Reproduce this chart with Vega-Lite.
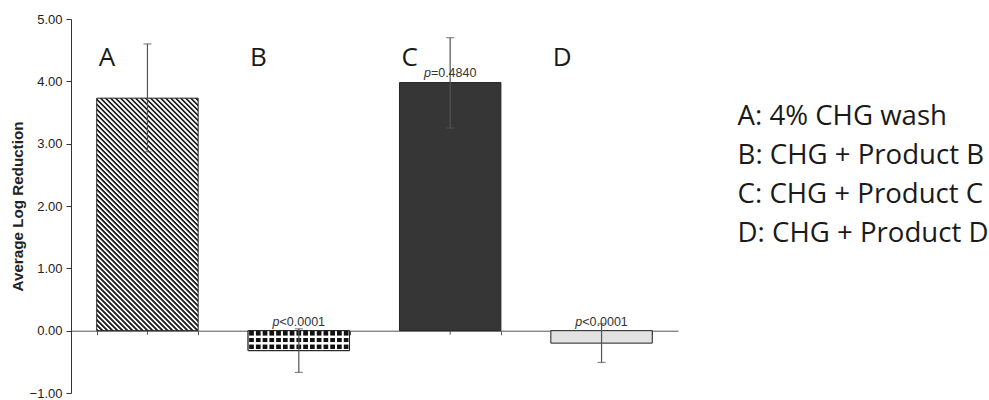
{
  "$schema": "https://vega.github.io/schema/vega-lite/v6.json",
  "width": 607,
  "height": 374,
  "autosize": {"type": "none"},
  "padding": {"left": 71, "top": 19, "right": 311, "bottom": 7},
  "background": "white",
  "config": {"view": {"stroke": null}, "font": "Liberation Sans"},
  "data": {"values": [
    {"group": "A", "name": "A: 4% CHG wash", "value": 3.73, "lower": 2.87, "upper": 4.60, "ptext": null},
    {"group": "B", "name": "B: CHG + Product B", "value": -0.32, "lower": -0.67, "upper": 0.03, "ptext": "<0.0001"},
    {"group": "C", "name": "C: CHG + Product C", "value": 3.98, "lower": 3.25, "upper": 4.70, "ptext": "=0.4840"},
    {"group": "D", "name": "D: CHG + Product D", "value": -0.20, "lower": -0.51, "upper": 0.11, "ptext": "<0.0001"}
  ]},
  "encoding": {
    "x": {
      "field": "group", "type": "nominal",
      "scale": {"paddingInner": 0.33, "paddingOuter": 0.17},
      "axis": {"title": null, "labels": false, "orient": "bottom", "offset": -62.3, "domainColor": "#555", "tickColor": "#555", "tickSize": 4, "tickBand": "extent", "grid": false}
    }
  },
  "layer": [
    {
      "mark": {"type": "rule", "color": "#555", "strokeWidth": 1},
      "encoding": {
        "y": {"datum": 0},
        "y2": {"datum": -0.065}
      }
    },
    {
      "mark": {"type": "bar", "stroke": "#222", "strokeWidth": 1},
      "encoding": {
        "y": {
          "field": "value", "type": "quantitative",
          "scale": {"domain": [-1, 5], "nice": false},
          "title": "Average Log Reduction",
          "axis": {"format": ".2f", "values": [-1, 0, 1, 2, 3, 4, 5], "grid": false, "domainColor": "#333", "tickColor": "#333", "tickSize": 5, "labelFont": "Liberation Sans", "labelFontSize": 13, "labelColor": "#222", "labelPadding": 4, "titleFont": "Liberation Sans", "titleFontSize": 15.2, "titleFontWeight": "bold", "titleColor": "#222", "titlePadding": 4}
        },
        "fill": {
          "condition": [
            {"test": "datum.group === 'A'", "value": {"gradient": "linear", "x1": 0, "y1": 1, "x2": 0.527, "y2": -0.207, "stops": [
{"offset":0,"color":"#222"},{"offset":0.005,"color":"#222"},{"offset":0.0075,"color":"#fff"},{"offset":0.0125,"color":"#fff"},
{"offset":0.015,"color":"#222"},{"offset":0.02,"color":"#222"},{"offset":0.0225,"color":"#fff"},{"offset":0.0275,"color":"#fff"},
{"offset":0.03,"color":"#222"},{"offset":0.035,"color":"#222"},{"offset":0.0375,"color":"#fff"},{"offset":0.0425,"color":"#fff"},
{"offset":0.045,"color":"#222"},{"offset":0.05,"color":"#222"},{"offset":0.0525,"color":"#fff"},{"offset":0.0575,"color":"#fff"},
{"offset":0.06,"color":"#222"},{"offset":0.065,"color":"#222"},{"offset":0.0675,"color":"#fff"},{"offset":0.0725,"color":"#fff"},
{"offset":0.075,"color":"#222"},{"offset":0.08,"color":"#222"},{"offset":0.0825,"color":"#fff"},{"offset":0.0875,"color":"#fff"},
{"offset":0.09,"color":"#222"},{"offset":0.095,"color":"#222"},{"offset":0.0975,"color":"#fff"},{"offset":0.1025,"color":"#fff"},
{"offset":0.105,"color":"#222"},{"offset":0.11,"color":"#222"},{"offset":0.1125,"color":"#fff"},{"offset":0.1175,"color":"#fff"},
{"offset":0.12,"color":"#222"},{"offset":0.125,"color":"#222"},{"offset":0.1275,"color":"#fff"},{"offset":0.1325,"color":"#fff"},
{"offset":0.135,"color":"#222"},{"offset":0.14,"color":"#222"},{"offset":0.1425,"color":"#fff"},{"offset":0.1475,"color":"#fff"},
{"offset":0.15,"color":"#222"},{"offset":0.155,"color":"#222"},{"offset":0.1575,"color":"#fff"},{"offset":0.1625,"color":"#fff"},
{"offset":0.165,"color":"#222"},{"offset":0.17,"color":"#222"},{"offset":0.1725,"color":"#fff"},{"offset":0.1775,"color":"#fff"},
{"offset":0.18,"color":"#222"},{"offset":0.185,"color":"#222"},{"offset":0.1875,"color":"#fff"},{"offset":0.1925,"color":"#fff"},
{"offset":0.195,"color":"#222"},{"offset":0.2,"color":"#222"},{"offset":0.2025,"color":"#fff"},{"offset":0.2075,"color":"#fff"},
{"offset":0.21,"color":"#222"},{"offset":0.215,"color":"#222"},{"offset":0.2175,"color":"#fff"},{"offset":0.2225,"color":"#fff"},
{"offset":0.225,"color":"#222"},{"offset":0.23,"color":"#222"},{"offset":0.2325,"color":"#fff"},{"offset":0.2375,"color":"#fff"},
{"offset":0.24,"color":"#222"},{"offset":0.245,"color":"#222"},{"offset":0.2475,"color":"#fff"},{"offset":0.2525,"color":"#fff"},
{"offset":0.255,"color":"#222"},{"offset":0.26,"color":"#222"},{"offset":0.2625,"color":"#fff"},{"offset":0.2675,"color":"#fff"},
{"offset":0.27,"color":"#222"},{"offset":0.275,"color":"#222"},{"offset":0.2775,"color":"#fff"},{"offset":0.2825,"color":"#fff"},
{"offset":0.285,"color":"#222"},{"offset":0.29,"color":"#222"},{"offset":0.2925,"color":"#fff"},{"offset":0.2975,"color":"#fff"},
{"offset":0.3,"color":"#222"},{"offset":0.305,"color":"#222"},{"offset":0.3075,"color":"#fff"},{"offset":0.3125,"color":"#fff"},
{"offset":0.315,"color":"#222"},{"offset":0.32,"color":"#222"},{"offset":0.3225,"color":"#fff"},{"offset":0.3275,"color":"#fff"},
{"offset":0.33,"color":"#222"},{"offset":0.335,"color":"#222"},{"offset":0.3375,"color":"#fff"},{"offset":0.3425,"color":"#fff"},
{"offset":0.345,"color":"#222"},{"offset":0.35,"color":"#222"},{"offset":0.3525,"color":"#fff"},{"offset":0.3575,"color":"#fff"},
{"offset":0.36,"color":"#222"},{"offset":0.365,"color":"#222"},{"offset":0.3675,"color":"#fff"},{"offset":0.3725,"color":"#fff"},
{"offset":0.375,"color":"#222"},{"offset":0.38,"color":"#222"},{"offset":0.3825,"color":"#fff"},{"offset":0.3875,"color":"#fff"},
{"offset":0.39,"color":"#222"},{"offset":0.395,"color":"#222"},{"offset":0.3975,"color":"#fff"},{"offset":0.4025,"color":"#fff"},
{"offset":0.405,"color":"#222"},{"offset":0.41,"color":"#222"},{"offset":0.4125,"color":"#fff"},{"offset":0.4175,"color":"#fff"},
{"offset":0.42,"color":"#222"},{"offset":0.425,"color":"#222"},{"offset":0.4275,"color":"#fff"},{"offset":0.4325,"color":"#fff"},
{"offset":0.435,"color":"#222"},{"offset":0.44,"color":"#222"},{"offset":0.4425,"color":"#fff"},{"offset":0.4475,"color":"#fff"},
{"offset":0.45,"color":"#222"},{"offset":0.455,"color":"#222"},{"offset":0.4575,"color":"#fff"},{"offset":0.4625,"color":"#fff"},
{"offset":0.465,"color":"#222"},{"offset":0.47,"color":"#222"},{"offset":0.4725,"color":"#fff"},{"offset":0.4775,"color":"#fff"},
{"offset":0.48,"color":"#222"},{"offset":0.485,"color":"#222"},{"offset":0.4875,"color":"#fff"},{"offset":0.4925,"color":"#fff"},
{"offset":0.495,"color":"#222"},{"offset":0.5,"color":"#222"},{"offset":0.5025,"color":"#fff"},{"offset":0.5075,"color":"#fff"},
{"offset":0.51,"color":"#222"},{"offset":0.515,"color":"#222"},{"offset":0.5175,"color":"#fff"},{"offset":0.5225,"color":"#fff"},
{"offset":0.525,"color":"#222"},{"offset":0.53,"color":"#222"},{"offset":0.5325,"color":"#fff"},{"offset":0.5375,"color":"#fff"},
{"offset":0.54,"color":"#222"},{"offset":0.545,"color":"#222"},{"offset":0.5475,"color":"#fff"},{"offset":0.5525,"color":"#fff"},
{"offset":0.555,"color":"#222"},{"offset":0.56,"color":"#222"},{"offset":0.5625,"color":"#fff"},{"offset":0.5675,"color":"#fff"},
{"offset":0.57,"color":"#222"},{"offset":0.575,"color":"#222"},{"offset":0.5775,"color":"#fff"},{"offset":0.5825,"color":"#fff"},
{"offset":0.585,"color":"#222"},{"offset":0.59,"color":"#222"},{"offset":0.5925,"color":"#fff"},{"offset":0.5975,"color":"#fff"},
{"offset":0.6,"color":"#222"},{"offset":0.605,"color":"#222"},{"offset":0.6075,"color":"#fff"},{"offset":0.6125,"color":"#fff"},
{"offset":0.615,"color":"#222"},{"offset":0.62,"color":"#222"},{"offset":0.6225,"color":"#fff"},{"offset":0.6275,"color":"#fff"},
{"offset":0.63,"color":"#222"},{"offset":0.635,"color":"#222"},{"offset":0.6375,"color":"#fff"},{"offset":0.6425,"color":"#fff"},
{"offset":0.645,"color":"#222"},{"offset":0.65,"color":"#222"},{"offset":0.6525,"color":"#fff"},{"offset":0.6575,"color":"#fff"},
{"offset":0.66,"color":"#222"},{"offset":0.665,"color":"#222"},{"offset":0.6675,"color":"#fff"},{"offset":0.6725,"color":"#fff"},
{"offset":0.675,"color":"#222"},{"offset":0.68,"color":"#222"},{"offset":0.6825,"color":"#fff"},{"offset":0.6875,"color":"#fff"},
{"offset":0.69,"color":"#222"},{"offset":0.695,"color":"#222"},{"offset":0.6975,"color":"#fff"},{"offset":0.7025,"color":"#fff"},
{"offset":0.705,"color":"#222"},{"offset":0.71,"color":"#222"},{"offset":0.7125,"color":"#fff"},{"offset":0.7175,"color":"#fff"},
{"offset":0.72,"color":"#222"},{"offset":0.725,"color":"#222"},{"offset":0.7275,"color":"#fff"},{"offset":0.7325,"color":"#fff"},
{"offset":0.735,"color":"#222"},{"offset":0.74,"color":"#222"},{"offset":0.7425,"color":"#fff"},{"offset":0.7475,"color":"#fff"},
{"offset":0.75,"color":"#222"},{"offset":0.755,"color":"#222"},{"offset":0.7575,"color":"#fff"},{"offset":0.7625,"color":"#fff"},
{"offset":0.765,"color":"#222"},{"offset":0.77,"color":"#222"},{"offset":0.7725,"color":"#fff"},{"offset":0.7775,"color":"#fff"},
{"offset":0.78,"color":"#222"},{"offset":0.785,"color":"#222"},{"offset":0.7875,"color":"#fff"},{"offset":0.7925,"color":"#fff"},
{"offset":0.795,"color":"#222"},{"offset":0.8,"color":"#222"},{"offset":0.8025,"color":"#fff"},{"offset":0.8075,"color":"#fff"},
{"offset":0.81,"color":"#222"},{"offset":0.815,"color":"#222"},{"offset":0.8175,"color":"#fff"},{"offset":0.8225,"color":"#fff"},
{"offset":0.825,"color":"#222"},{"offset":0.83,"color":"#222"},{"offset":0.8325,"color":"#fff"},{"offset":0.8375,"color":"#fff"},
{"offset":0.84,"color":"#222"},{"offset":0.845,"color":"#222"},{"offset":0.8475,"color":"#fff"},{"offset":0.8525,"color":"#fff"},
{"offset":0.855,"color":"#222"},{"offset":0.86,"color":"#222"},{"offset":0.8625,"color":"#fff"},{"offset":0.8675,"color":"#fff"},
{"offset":0.87,"color":"#222"},{"offset":0.875,"color":"#222"},{"offset":0.8775,"color":"#fff"},{"offset":0.8825,"color":"#fff"},
{"offset":0.885,"color":"#222"},{"offset":0.89,"color":"#222"},{"offset":0.8925,"color":"#fff"},{"offset":0.8975,"color":"#fff"},
{"offset":0.9,"color":"#222"},{"offset":0.905,"color":"#222"},{"offset":0.9075,"color":"#fff"},{"offset":0.9125,"color":"#fff"},
{"offset":0.915,"color":"#222"},{"offset":0.92,"color":"#222"},{"offset":0.9225,"color":"#fff"},{"offset":0.9275,"color":"#fff"},
{"offset":0.93,"color":"#222"},{"offset":0.935,"color":"#222"},{"offset":0.9375,"color":"#fff"},{"offset":0.9425,"color":"#fff"},
{"offset":0.945,"color":"#222"},{"offset":0.95,"color":"#222"},{"offset":0.9525,"color":"#fff"},{"offset":0.9575,"color":"#fff"},
{"offset":0.96,"color":"#222"},{"offset":0.965,"color":"#222"},{"offset":0.9675,"color":"#fff"},{"offset":0.9725,"color":"#fff"},
{"offset":0.975,"color":"#222"},{"offset":0.98,"color":"#222"},{"offset":0.9825,"color":"#fff"},{"offset":0.9875,"color":"#fff"},
{"offset":0.99,"color":"#222"},{"offset":0.995,"color":"#222"},{"offset":0.9975,"color":"#fff"},{"offset":1,"color":"#fff"}
            ]}},
            {"test": "datum.group === 'B'", "value": {"gradient": "linear", "x1": 0, "y1": 0, "x2": 0, "y2": 1, "stops": [
{"offset":0,"color":"#fff"},{"offset":0.01,"color":"#fff"},{"offset":0.04,"color":"#111"},{"offset":0.23,"color":"#111"},
{"offset":0.26,"color":"#fff"},{"offset":0.345,"color":"#fff"},{"offset":0.375,"color":"#111"},{"offset":0.565,"color":"#111"},
{"offset":0.595,"color":"#fff"},{"offset":0.68,"color":"#fff"},{"offset":0.71,"color":"#111"},{"offset":0.9,"color":"#111"},
{"offset":0.93,"color":"#fff"},{"offset":1,"color":"#fff"}
            ]}},
            {"test": "datum.group === 'C'", "value": "#363636"}
          ],
          "value": "#e2e2e2"
        }
      }
    },
    {
      "transform": [{"filter": "datum.group === 'B'"}],
      "mark": {"type": "bar", "stroke": "#222", "strokeWidth": 1, "fill": {"gradient": "linear", "x1": 0, "y1": 0, "x2": 1, "y2": 0, "stops": [
{"offset":0,"color":"#fff"},
{"offset":0.0053,"color":"#fff"},{"offset":0.0147,"color":"rgba(255,255,255,0)"},{"offset":0.052,"color":"rgba(255,255,255,0)"},{"offset":0.0613,"color":"#fff"},
{"offset":0.072,"color":"#fff"},{"offset":0.0813,"color":"rgba(255,255,255,0)"},{"offset":0.1187,"color":"rgba(255,255,255,0)"},{"offset":0.128,"color":"#fff"},
{"offset":0.1387,"color":"#fff"},{"offset":0.148,"color":"rgba(255,255,255,0)"},{"offset":0.1853,"color":"rgba(255,255,255,0)"},{"offset":0.1947,"color":"#fff"},
{"offset":0.2053,"color":"#fff"},{"offset":0.2147,"color":"rgba(255,255,255,0)"},{"offset":0.252,"color":"rgba(255,255,255,0)"},{"offset":0.2613,"color":"#fff"},
{"offset":0.272,"color":"#fff"},{"offset":0.2813,"color":"rgba(255,255,255,0)"},{"offset":0.3187,"color":"rgba(255,255,255,0)"},{"offset":0.328,"color":"#fff"},
{"offset":0.3387,"color":"#fff"},{"offset":0.348,"color":"rgba(255,255,255,0)"},{"offset":0.3853,"color":"rgba(255,255,255,0)"},{"offset":0.3947,"color":"#fff"},
{"offset":0.4053,"color":"#fff"},{"offset":0.4147,"color":"rgba(255,255,255,0)"},{"offset":0.452,"color":"rgba(255,255,255,0)"},{"offset":0.4613,"color":"#fff"},
{"offset":0.472,"color":"#fff"},{"offset":0.4813,"color":"rgba(255,255,255,0)"},{"offset":0.5187,"color":"rgba(255,255,255,0)"},{"offset":0.528,"color":"#fff"},
{"offset":0.5387,"color":"#fff"},{"offset":0.548,"color":"rgba(255,255,255,0)"},{"offset":0.5853,"color":"rgba(255,255,255,0)"},{"offset":0.5947,"color":"#fff"},
{"offset":0.6053,"color":"#fff"},{"offset":0.6147,"color":"rgba(255,255,255,0)"},{"offset":0.652,"color":"rgba(255,255,255,0)"},{"offset":0.6613,"color":"#fff"},
{"offset":0.672,"color":"#fff"},{"offset":0.6813,"color":"rgba(255,255,255,0)"},{"offset":0.7187,"color":"rgba(255,255,255,0)"},{"offset":0.728,"color":"#fff"},
{"offset":0.7387,"color":"#fff"},{"offset":0.748,"color":"rgba(255,255,255,0)"},{"offset":0.7853,"color":"rgba(255,255,255,0)"},{"offset":0.7947,"color":"#fff"},
{"offset":0.8053,"color":"#fff"},{"offset":0.8147,"color":"rgba(255,255,255,0)"},{"offset":0.852,"color":"rgba(255,255,255,0)"},{"offset":0.8613,"color":"#fff"},
{"offset":0.872,"color":"#fff"},{"offset":0.8813,"color":"rgba(255,255,255,0)"},{"offset":0.9187,"color":"rgba(255,255,255,0)"},{"offset":0.928,"color":"#fff"},
{"offset":0.9387,"color":"#fff"},{"offset":0.948,"color":"rgba(255,255,255,0)"},{"offset":0.9853,"color":"rgba(255,255,255,0)"},{"offset":0.9947,"color":"#fff"},
{"offset":1,"color":"#fff"}
      ]}},
      "encoding": {"y": {"field": "value", "type": "quantitative", "title": "Average Log Reduction"}}
    },
    {
      "mark": {"type": "rule", "color": "#555", "strokeWidth": 1.2},
      "encoding": {
        "y": {"field": "lower", "type": "quantitative", "title": "Average Log Reduction"},
        "y2": {"field": "upper"}
      }
    },
    {
      "mark": {"type": "tick", "color": "#555", "thickness": 1.2, "size": 8},
      "encoding": {"y": {"field": "upper", "type": "quantitative", "title": "Average Log Reduction"}}
    },
    {
      "mark": {"type": "tick", "color": "#555", "thickness": 1.2, "size": 8},
      "encoding": {"y": {"field": "lower", "type": "quantitative", "title": "Average Log Reduction"}}
    },
    {
      "mark": {"type": "text", "font": "Open Sans", "fontSize": 26, "align": "left", "baseline": "alphabetic", "dx": 2, "color": "#1a1a1a"},
      "encoding": {
        "x": {"field": "group", "type": "nominal", "bandPosition": 0},
        "y": {"datum": 4.24},
        "text": {"field": "group"}
      }
    },
    {
      "transform": [{"filter": "datum.ptext != null && datum.value > 0"}],
      "encoding": {"y": {"field": "value", "type": "quantitative", "title": "Average Log Reduction"}},
      "layer": [
        {"mark": {"type": "text", "text": "p", "font": "Liberation Sans", "fontStyle": "italic", "fontSize": 12.5, "align": "right", "baseline": "alphabetic", "dx": -19.3, "dy": -6, "color": "#333"}},
        {"mark": {"type": "text", "font": "Liberation Sans", "fontSize": 12.5, "align": "left", "baseline": "alphabetic", "dx": -19.3, "dy": -6, "color": "#333"},
         "encoding": {"text": {"field": "ptext"}}}
      ]
    },
    {
      "transform": [{"filter": "datum.ptext != null && datum.value < 0"}],
      "encoding": {"y": {"datum": 0}},
      "layer": [
        {"mark": {"type": "text", "text": "p", "font": "Liberation Sans", "fontStyle": "italic", "fontSize": 12.5, "align": "right", "baseline": "alphabetic", "dx": -19.3, "dy": -5, "color": "#333"}},
        {"mark": {"type": "text", "font": "Liberation Sans", "fontSize": 12.5, "align": "left", "baseline": "alphabetic", "dx": -19.3, "dy": -5, "color": "#333"},
         "encoding": {"text": {"field": "ptext"}}}
      ]
    },
    {
      "mark": {"type": "point", "opacity": 0},
      "encoding": {
        "y": {"field": "value", "type": "quantitative", "title": "Average Log Reduction"},
        "shape": {
          "field": "name", "type": "nominal",
          "legend": {"title": null, "orient": "none", "legendX": 639, "legendY": 84, "labelFont": "Open Sans", "labelFontSize": 27.6, "labelColor": "#1a1a1a", "labelLimit": 400, "symbolSize": 0, "symbolOpacity": 0, "symbolStrokeWidth": 0, "rowPadding": 10, "labelOffset": 0}
        }
      }
    }
  ]
}
